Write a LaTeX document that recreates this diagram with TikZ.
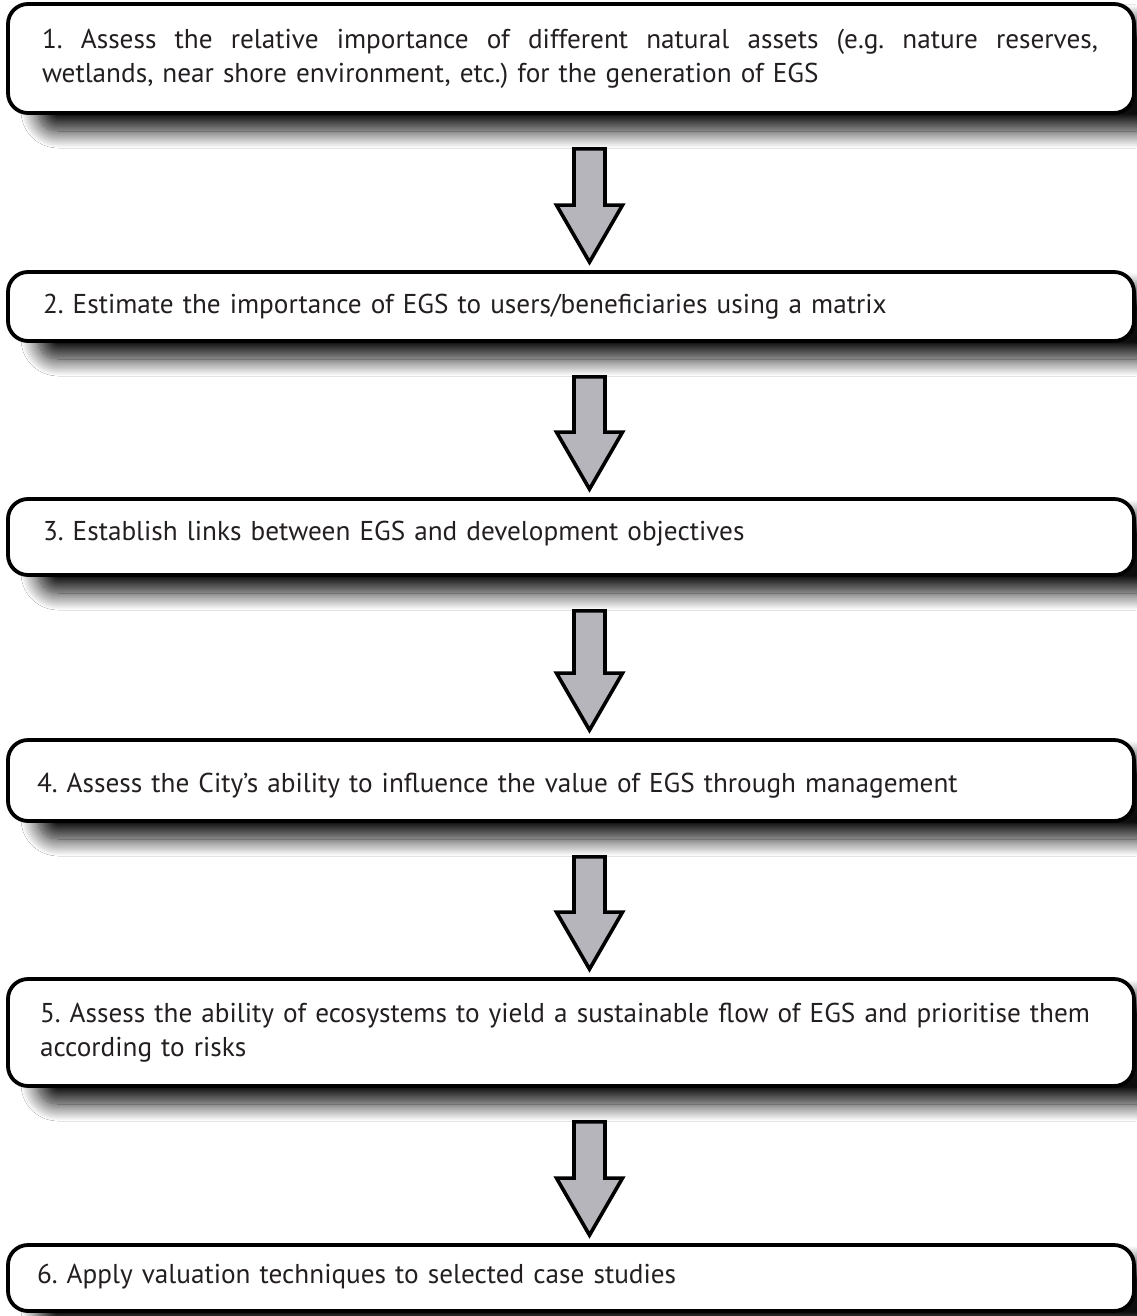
\documentclass[tikz,border=0pt]{standalone}
\usepackage{fontspec}
\setmainfont{PT Sans}
\usetikzlibrary{calc,shadows.blur}
\definecolor{arrowgray}{RGB}{181,181,187}
\definecolor{txt}{RGB}{35,31,32}
\newsavebox\measbox
\newcommand\flowarrow[2]{%
  \draw[bigarrow] let \p1=($(#1.south)+(18.5,34)$), \p2=($(#2.north)+(18.5,-8)$) in
    (\x1-15.5pt,\y1) -- (\x1+15.5pt,\y1) -- (\x1+15.5pt,\y2+57pt) -- (\x1+33pt,\y2+57pt)
    -- (\x2,\y2) -- (\x1-33pt,\y2+57pt) -- (\x1-15.5pt,\y2+57pt) -- cycle;}
\begin{document}
\frenchspacing
\sbox\measbox{\fontsize{10pt}{12pt}\selectfont 5. Assess the ability of ecosystems to yield a sustainable flow of EGS and prioritise them}%
\pgfmathsetmacro\fs{10*1023/\wd\measbox}%
\begin{tikzpicture}[x=1pt,y=-1pt]
\tikzset{
  stepbox/.style={draw=black, line width=3.8pt, rounded corners=20pt, fill=white,
    minimum width=1126pt, text width=1062pt, inner xsep=32pt, inner ysep=0pt,
    align=left, text=txt, font=\fontsize{\fs pt}{34pt}\selectfont,
    blur shadow={shadow xshift=30pt, shadow yshift=-18pt, shadow blur radius=17pt,
      shadow opacity=95, shadow blur steps=24}},
  bigarrow/.style={draw=black, line width=3.6pt, fill=arrowgray, line join=miter}
}
\useasboundingbox (0,0) rectangle (1136,1316);
\fill[white] (0,0) rectangle (1136,1316);
\node[stepbox, minimum height=109pt] (b1) at (571,58.5)
  {\hspace*{2pt}\hbox to 1056pt{1.\hfil\ Assess\hfil\ the\hfil\ relative\hfil\ importance\hfil\ of\hfil\ different\hfil\ natural\hfil\ assets\hfil\ (e.g.\hfil\ nature\hfil\ reserves,}\\\hspace*{2pt}wetlands, near shore environment, etc.) for the generation of EGS};
\node[stepbox, minimum height=69pt, text height=22pt, text depth=9pt] (b2) at (571,306.5)
  {\hspace*{3pt}2. Estimate the importance of EGS to users/beneficiaries using a matrix};
\node[stepbox, minimum height=76pt, text height=20pt, text depth=14pt] (b3) at (571,537)
  {\hspace*{3pt}3. Establish links between EGS and development objectives};
\node[stepbox, minimum height=81pt, text height=26pt, text depth=3pt] (b4) at (571,780.5)
  {\hspace*{-3pt}4. Assess the City’s ability to influence the value of EGS through management};
\node[stepbox, minimum height=107pt] (b5) at (571,1032.5)
  {\mbox{5. Assess the ability of ecosystems to yield a sustainable flow of EGS and prioritise them}\\according to risks};
\node[stepbox, minimum height=66pt, text height=22pt, text depth=12pt] (b6) at (571,1278)
  {\hspace*{-3pt}6. Apply valuation techniques to selected case studies};
\flowarrow{b1}{b2}
\flowarrow{b2}{b3}
\flowarrow{b3}{b4}
\flowarrow{b4}{b5}
\flowarrow{b5}{b6}
\end{tikzpicture}
\end{document}
